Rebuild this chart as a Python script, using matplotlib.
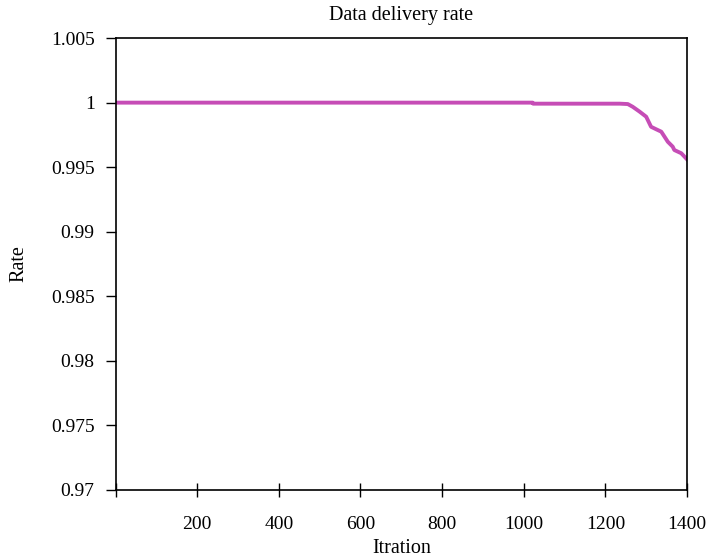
import matplotlib
matplotlib.use("Agg")
import matplotlib.pyplot as plt

iterations = [1, 1022, 1023, 1235, 1255, 1267, 1284, 1300, 1304, 1312, 1325, 1337, 1345, 1353, 1365, 1369, 1386, 1400]
rate = [1.0, 1.0, 0.99992, 0.99992, 0.99989, 0.99968, 0.9993, 0.99891, 0.99865, 0.99813, 0.99793, 0.99775, 0.99736, 0.99697, 0.99659, 0.99633, 0.99608, 0.99561]
xticks = [0, 200, 400, 600, 800, 1000, 1200, 1400]
xticklabels = ["", "200", "400", "600", "800", "1000", "1200", "1400"]
yticks = [0.97, 0.975, 0.98, 0.985, 0.99, 0.995, 1.0, 1.005]
yticklabels = ["0.97", "0.975", "0.98", "0.985", "0.99", "0.995", "1", "1.005"]

plt.rcParams['font.family'] = ['Liberation Serif', 'DejaVu Serif']
fig = plt.figure(figsize=(7.07, 5.6), dpi=100)
ax = fig.add_axes([0.1634, 0.125, 0.8083, 0.807])
ax.plot(iterations, rate, color='#c64db6', lw=2.8, solid_joinstyle='round')
ax.set_xlim(0, 1400)
ax.set_ylim(0.97, 1.005)
ax.set_xticks(xticks)
ax.set_xticklabels(xticklabels)
ax.set_yticks(yticks)
ax.set_yticklabels(yticklabels)
ax.tick_params(axis='x', direction='inout', length=10, width=1, labelsize=14, pad=14)
ax.tick_params(axis='y', direction='out', length=7, width=1, labelsize=14, pad=8)
for s in ax.spines.values():
    s.set_linewidth(1.2)
ax.set_title("Data delivery rate", fontsize=14.5, pad=13)
ax.set_xlabel("Itration", fontsize=14.5, labelpad=4)
ax.set_ylabel("Rate", fontsize=14.5, labelpad=16)
fig.savefig("out.png", dpi=100)
